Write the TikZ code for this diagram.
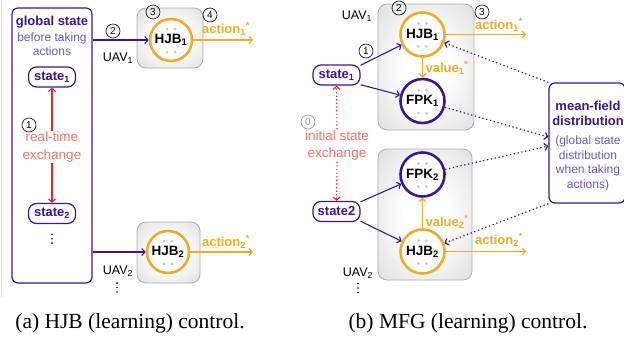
\documentclass[tikz,border=0pt]{standalone}
\usepackage{fontspec}
\setmainfont{Liberation Serif}
\newfontfamily\dsf{Liberation Sans}
\usetikzlibrary{arrows.meta}
\definecolor{purD}{RGB}{58,22,158}
\definecolor{purL}{RGB}{112,84,200}
\definecolor{orng}{RGB}{240,172,36}
\definecolor{salm}{RGB}{255,112,96}
\definecolor{redA}{RGB}{250,30,30}
\pgfdeclareradialshading{softbox}{\pgfpoint{0bp}{0bp}}{color(0bp)=(white); color(12bp)=(white); color(35bp)=(black!12); color(50bp)=(black!22); color(72bp)=(black!28)}
\newcommand\nnd[1]{\foreach \dx in {-4,4}{\foreach \dy in {-11,12}{\fill[gray!45] ([shift={(\dx,\dy)}]#1.center) circle (1.5pt);}}}
\newcommand\vdt[1]{\foreach \dy in {-4.4,0,4.4}{\fill[black] ([shift={(0,\dy)}]#1) circle (0.9pt);}}
\begin{document}
\begin{tikzpicture}[x=1pt,y=-1pt,
 >={Straight Barb[length=3.2pt,width=7pt]},
 every node/.style={font=\dsf\fontsize{12.5}{14}\selectfont, inner sep=1pt},
 bf/.style={font=\dsf\bfseries\fontsize{13}{15}\selectfont},
 lt/.style={font=\dsf\fontsize{12}{14.5}\selectfont, text=purL, align=center},
 sal/.style={font=\dsf\fontsize{13.5}{17.5}\selectfont, text=salm, align=center},
 statebox/.style={draw=purD, line width=1.2pt, rounded corners=8pt, minimum width=47pt, minimum height=20pt, inner sep=0pt, text=purD, font=\dsf\bfseries\fontsize{13}{15}\selectfont},
 hjb/.style={circle, draw=orng, line width=2.6pt, fill=white, minimum size=42pt, inner sep=0pt, font=\dsf\bfseries\fontsize{13}{15}\selectfont},
 fpk/.style={hjb, draw=purD},
 grbox/.style={draw=gray!65, line width=.8pt, rounded corners=9pt, shading=softbox, shade},
 num/.style={circle, draw=black, line width=.6pt, minimum size=14pt, inner sep=0pt, font=\dsf\fontsize{10}{10}\selectfont},
 parr/.style={->, draw=purD, line width=1.1pt},
 oarr/.style={->, draw=orng, line width=1.2pt},
 olab/.style={bf, text=orng},
 ctr/.style={font=\dsf\bfseries\fontsize{13.5}{15}\selectfont},
 pdot/.style={->, draw=purD, line width=1.2pt, dash pattern=on 1.3pt off 2.6pt},
 rdot/.style={->, draw=redA, line width=1.1pt, dash pattern=on 1.3pt off 2.3pt},
 captxt/.style={font=\rmfamily\fontsize{21.5}{24}\selectfont}
]
\useasboundingbox (0,0) rectangle (624,341);
\draw[gray!25, line width=.8pt] (1.5,0) -- (1.5,297);

% ---------- panel (a) ----------
\node[draw=purD, line width=1.2pt, rounded corners=6pt, minimum width=80pt, minimum height=275pt] (gbox) at (52,145.5) {};
\node[bf, text=purD] (gst) at (52,22) {global state};
\node[lt] (gbt) at (52,44) {before taking\\actions};
\node[statebox] (sA1) at (52,77) {state\textsubscript{1}};
\node[statebox] (sA2) at (52,213.5) {state\textsubscript{2}};
\coordinate (vdA) at (52,238.7);
\vdt{vdA}
\node[sal] (rt) at (52,147) {real-time\\exchange};
\node[num] (nA1) at (29,125) {1};
\draw[->, draw=redA, line width=1.1pt] (rt.north) -- (sA1.south);
\draw[->, draw=redA, line width=1.1pt] (rt.south) -- (sA2.north);

\node[grbox, minimum width=66pt, minimum height=60pt] (gA1) at (170,38) {};
\node[hjb] (hA1) at (171,40) {};
\nnd{hA1}
\node[ctr] (hA1l) at (171,40) {HJB\textsubscript{1}};
\node[num] (nA2) at (113,31) {2};
\node[num] (nA3) at (153,12) {3};
\node[num] (nA4) at (210,15) {4};
\node (uA1) at (118,58) {UAV\textsubscript{1}};
\node[olab] (aA1) at (226,29) {action\textsubscript{1}\textsuperscript{*}};
\coordinate (aA1e) at (253,40);
\draw[parr] (gbox.east |- hA1) -- (hA1);
\draw[oarr] (hA1.east) -- (aA1e);

\node[grbox, minimum width=63pt, minimum height=61pt] (gA2) at (168.5,252.5) {};
\node[hjb] (hA2) at (168,252) {};
\nnd{hA2}
\node[ctr] (hA2l) at (168,252) {HJB\textsubscript{2}};
\node (uA2) at (118,271) {UAV\textsubscript{2}};
\coordinate (vdA2) at (117,287.5);
\vdt{vdA2}
\node[olab] (aA2) at (226,242) {action\textsubscript{2}\textsuperscript{*}};
\coordinate (aA2e) at (253,252);
\draw[parr] (gbox.east |- hA2) -- (hA2);
\draw[oarr] (hA2.east) -- (aA2e);

% ---------- panel (b) ----------
\node[grbox, minimum width=96pt, minimum height=126pt] (gB1) at (426,67) {};
\node[grbox, minimum width=94pt, minimum height=131pt] (gB2) at (425,214.5) {};
\node[hjb, minimum size=44pt] (hB1) at (422.5,34.5) {};
\nnd{hB1}
\node[ctr] (hB1l) at (422.5,34.5) {HJB\textsubscript{1}};
\node[fpk, minimum size=44pt] (fB1) at (422.5,101) {};
\nnd{fB1}
\node[ctr] (fB1l) at (422.5,101) {FPK\textsubscript{1}};
\node[fpk, minimum size=44pt] (fB2) at (422.5,174.5) {};
\nnd{fB2}
\node[ctr] (fB2l) at (422.5,174.5) {FPK\textsubscript{2}};
\node[hjb, minimum size=44pt] (hB2) at (422.5,251.5) {};
\nnd{hB2}
\node[ctr] (hB2l) at (422.5,251.5) {HJB\textsubscript{2}};

\node (uB1) at (357,16) {UAV\textsubscript{1}};
\node[num] (nB2) at (399,8) {2};
\node[num] (nB1) at (366,51) {1};
\node[num] (nB3) at (482,12) {3};
\node[num, draw=gray!80, text=gray!80] (nB0) at (308,122) {0};
\node[statebox] (sB1) at (336.5,75) {state\textsubscript{1}};
\node[statebox] (sB2) at (336.5,211.5) {state2};
\node[sal] (ise) at (337,145.5) {initial state\\exchange};
\draw[rdot] (ise.north) -- (sB1.south);
\draw[rdot] (ise.south) -- (sB2.north);
\node (uB2) at (358,273) {UAV\textsubscript{2}};
\coordinate (vdB2) at (358,288);
\vdt{vdB2}

\draw[parr] (sB1.22) -- (hB1);
\draw[parr] (sB1.-22) -- (fB1);
\draw[parr] (sB2.22) -- (fB2);
\draw[parr] (sB2.-22) -- (hB2);

\draw[oarr] (hB1) -- (fB1);
\draw[oarr] (hB2) -- (fB2);
\node[olab] (vB1) at (447,68) {value\textsubscript{1}\textsuperscript{*}};
\node[olab] (vB2) at (447,222) {value\textsubscript{2}\textsuperscript{*}};

\node[olab] (aB1) at (499,25) {action\textsubscript{1}\textsuperscript{*}};
\node[olab] (aB2) at (499,240) {action\textsubscript{2}\textsuperscript{*}};
\coordinate (aB1e) at (526,34.5);
\coordinate (aB2e) at (526,251.5);
\draw[oarr] (hB1.east) -- (aB1e);
\draw[oarr] (hB2.east) -- (aB2e);

\node[draw=purD, line width=1.2pt, rounded corners=6pt, minimum width=76pt, minimum height=120pt] (mf) at (587,143) {};
\node[bf, text=purD, align=center] (mft) at (588,113.5) {mean-field\\distribution};
\node[lt] (mfs) at (588,163.5) {(global state\\distribution\\when taking\\actions)};

\draw[pdot] (mf.north west) -- (hB1);
\draw[pdot] (fB1) -- ([yshift=6pt]mf.west);
\draw[pdot] (fB2) -- ([yshift=-3pt]mf.west);
\draw[pdot] (mf.south west) -- (hB2);

% ---------- captions ----------
\node[captxt] (capA) at (130,323) {(a) HJB (learning) control.};
\node[captxt] (capB) at (468,323) {(b) MFG (learning) control.};
\end{tikzpicture}
\end{document}
